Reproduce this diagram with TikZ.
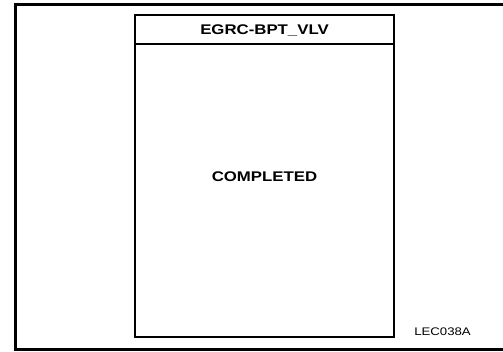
\documentclass[tikz,border=0pt]{standalone}
\usepackage{fontspec}
\setmainfont[FakeStretch=1.2]{Liberation Sans}
\usetikzlibrary{positioning}
\begin{document}
\begin{tikzpicture}[x=1pt, y=-1pt,
  frame/.style={line width=3pt},
  panel/.style={line width=1.5pt},
  lbl/.style={font=\bfseries\fontsize{14}{16}\selectfont, inner sep=0pt}]
\useasboundingbox (0,0) rectangle (503,352);
% Cornice esterna
\draw[frame] (503,4.5) -- (15,4.5) -- (15,349) -- (503,349);
% Riquadro con intestazione
\draw[panel] (135,15) rectangle (394,337);
\draw[panel] (135,44) -- (394,44);
\node[lbl] (title) at (264.5,30.5) {EGRC-BPT\_VLV};
\node[lbl] (status) at (264.5,177) {COMPLETED};
\node[font=\fontsize{11}{13}\selectfont, inner sep=0pt] (code) at (442.5,332) {LEC038A};
\end{tikzpicture}
\end{document}
